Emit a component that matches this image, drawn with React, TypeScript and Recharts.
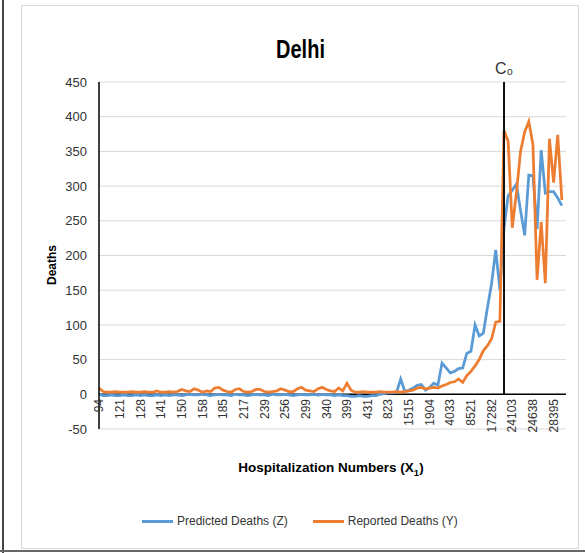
import React from 'react';
import { LineChart, Line, XAxis, YAxis, CartesianGrid, ReferenceLine } from 'recharts';

const FONT = '"Liberation Sans", Arial, sans-serif';

const tickLabels = ['94', '121', '128', '141', '150', '158', '185', '217', '239', '256', '299', '340', '399', '431', '823', '1515', '1904', '4033', '8521', '17282', '24103', '24638', '28395'];

const predicted = [
  0, -2, -2, -1, -2, -2, -1, -2, -2, -1,
  -2, -1, -2, -2, -1, -2, -1, -2, -1, -1,
  -2, -1, 0, -1, -1, 0, -1, -2, -1, 0,
  -1, -1, -2, 0, -1, -1, -2, -1, 0, -1,
  -1, -2, 0, -1, -1, 0, -1, -2, -1, 0,
  -1, -1, 0, -1, 0, -1, -1, -2, -1, -2,
  -2, -3, -3, -2, -3, -3, -2, -2, 0, 1,
  2, 2, 3, 22, 4, 6, 9, 13, 14, 6,
  10, 16, 13, 45, 38, 31, 33, 37, 38, 59,
  62, 100, 84, 88, 125, 160, 208, 150, 240, 286,
  294, 303, 265, 229, 316, 315, 238, 352, 290, 292,
  292, 283, 272,
];

const reported = [
  9, 4, 3, 3, 4, 3, 3, 3, 4, 3,
  3, 4, 3, 3, 5, 3, 3, 4, 3, 4,
  7, 5, 4, 8, 6, 3, 5, 4, 9, 10,
  6, 4, 3, 7, 8, 4, 3, 4, 7, 7,
  4, 3, 4, 5, 8, 6, 4, 4, 8, 10,
  6, 5, 4, 8, 10, 7, 5, 4, 9, 5,
  16, 6, 3, 3, 4, 3, 3, 3, 4, 3,
  3, 3, 4, 3, 4, 5, 6, 9, 10, 8,
  9, 10, 9, 12, 14, 17, 18, 22, 17, 27,
  33, 41, 50, 63, 70, 80, 104, 105, 380, 365,
  240, 290, 350, 378, 393, 360, 165, 248, 160, 368,
  305, 374, 280,
];

const yTicks = [-50, 0, 50, 100, 150, 200, 250, 300, 350, 400, 450];
const labelStep = 5;
const c0Index = 98;

const seriesInfo = [
  { key: 'predicted', name: 'Predicted Deaths (Z)', color: '#5B9BD5' },
  { key: 'reported', name: 'Reported Deaths (Y)', color: '#ED7D31' },
];

const data = predicted.map((p, i) => ({ idx: i, predicted: p, reported: reported[i] }));
const xTicks = tickLabels.map((_, k) => k * labelStep);

const XTick = (props: any) => {
  const { x, y, payload } = props;
  const label = tickLabels[Math.round(payload.value / labelStep)];
  return (
    <text
      transform={`translate(${x},${y - 30}) rotate(-90)`}
      textAnchor="end"
      dy="0.35em"
      fontSize={12}
      fill="#333"
      fontFamily={FONT}
    >
      {label}
    </text>
  );
};

export default function App() {
  return (
    <div style={{ position: 'absolute', left: 0, top: 0, width: 585, height: 553, background: '#fff', fontFamily: FONT, overflow: 'hidden' }}>
      <div style={{ position: 'absolute', left: 21, top: 5, width: 556, height: 542, border: '1px solid #D9D9D9' }} />
      <div style={{ position: 'absolute', left: 2, top: 0, width: 2, height: 553, background: '#444' }} />
      <div style={{ position: 'absolute', left: 0, top: 550, width: 585, height: 2, background: '#666' }} />
      <div style={{ position: 'absolute', left: 0, top: 0 }}>
        <LineChart width={585} height={553} data={data} margin={{ top: 82, right: 19, left: 59, bottom: 94 }}>
          <CartesianGrid horizontal={true} vertical={false} stroke="#D9D9D9" strokeWidth={1} />
          <XAxis
            dataKey="idx"
            type="number"
            domain={[0, 113]}
            ticks={xTicks}
            interval={0}
            height={30}
            axisLine={false}
            tickLine={false}
            tickSize={0}
            tickMargin={0}
            tick={<XTick />}
          />
          <YAxis
            type="number"
            domain={[-50, 450]}
            ticks={yTicks}
            interval={0}
            width={40}
            axisLine={{ stroke: '#000', strokeWidth: 1.5 }}
            tickLine={false}
            tickMargin={6}
            tick={{ fontSize: 13, fill: '#333', fontFamily: FONT }}
          />
          <ReferenceLine y={0} stroke="#000" strokeWidth={1.5} />
          {seriesInfo.map((s) => (
            <Line
              key={s.key}
              type="linear"
              dataKey={s.key}
              name={s.name}
              stroke={s.color}
              strokeWidth={2.75}
              dot={false}
              activeDot={false}
              isAnimationActive={false}
            />
          ))}
          <ReferenceLine
            segment={[{ x: c0Index, y: 450 }, { x: c0Index, y: 0 }]}
            stroke="#111"
            strokeWidth={2}
            label={{ value: 'C₀', position: 'top', offset: 8, fontSize: 16, fill: '#333', fontFamily: FONT }}
          />
        </LineChart>
      </div>
      <svg width={585} height={553} style={{ position: 'absolute', left: 0, top: 0, pointerEvents: 'none' }}>
        <text transform="translate(300.5,58) scale(1,1.25)" textAnchor="middle" fontSize={20} fontWeight="bold" fill="#000" fontFamily={FONT}>
          Delhi
        </text>
        <text transform="translate(56,265) rotate(-90)" textAnchor="middle" fontSize={12} fontWeight="bold" fill="#000" fontFamily={FONT}>
          Deaths
        </text>
        <text x={331} y={472} textAnchor="middle" fontSize={13.5} fontWeight="bold" fill="#000" fontFamily={FONT}>
          Hospitalization Numbers (X<tspan fontSize={9.5} dy={4}>1</tspan><tspan dy={-4}>)</tspan>
        </text>
      </svg>
      <div style={{ position: 'absolute', left: 142, top: 514, display: 'flex', alignItems: 'center', fontSize: 12, color: '#333', fontFamily: FONT }}>
        {seriesInfo.map((s, k) => (
          <div key={s.key} style={{ display: 'flex', alignItems: 'center', marginLeft: k === 0 ? 0 : 25 }}>
            <div style={{ width: 31, height: 3, background: s.color, marginRight: 4 }} />
            <span>{s.name}</span>
          </div>
        ))}
      </div>
    </div>
  );
}
